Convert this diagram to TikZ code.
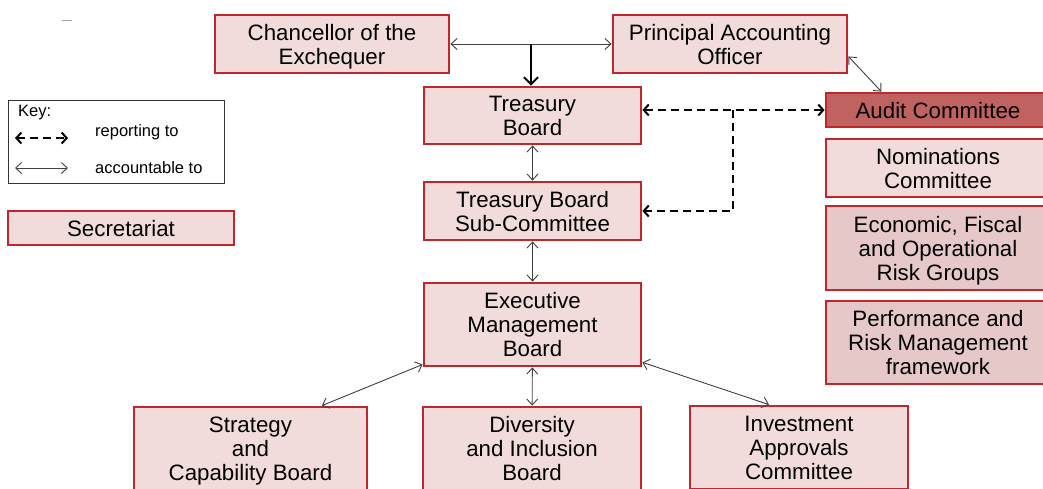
\documentclass[tikz,border=0pt]{standalone}
\usepackage{fontspec}
\setmainfont{Liberation Sans}
\usepackage{tikz}
\usetikzlibrary{arrows.meta,calc}
\definecolor{boxred}{RGB}{192,39,45}
\definecolor{boxpink}{RGB}{242,220,219}
\definecolor{boxrose}{RGB}{230,200,201}
\definecolor{auditred}{RGB}{192,98,96}
\newcommand{\boxfont}{\fontsize{22.3}{24}\selectfont}
\newcommand{\keyfont}{\fontsize{16.5}{19}\selectfont}
\tikzset{every picture/.append style={x=1pt,y=-1pt}}
\tikzset{box/.style={draw=boxred, fill=boxpink, line width=2.8pt, align=center, inner sep=0pt, font=\boxfont, text depth=-1.5pt}}
\tikzset{rosebox/.style={box, fill=boxrose}}
\tikzset{keybox/.style={draw=black!80, fill=white, line width=1pt, inner sep=0pt}}
\tikzset{acc/.style={{Straight Barb[length=6pt,width=11pt]}-{Straight Barb[length=6pt,width=11pt]}, line width=0.9pt, draw=black!75}}
\tikzset{rep/.style={{Straight Barb[length=5pt,width=11pt,line width=2pt]}-{Straight Barb[length=5pt,width=11pt,line width=2pt]}, line width=2pt, dash pattern=on 8pt off 5pt}}
\tikzset{repend/.style={-{Straight Barb[length=5pt,width=11pt,line width=2pt]}, line width=2pt, dash pattern=on 8pt off 5pt}}
\tikzset{down/.style={-{Straight Barb[length=7pt,width=14pt,line width=2pt]}, line width=2pt}}

\begin{document}
\begin{tikzpicture}
%governance chart: boards, committees and the lines of accountability and reporting between them
\clip (0,0) rectangle (1043,488);
\draw[black!35, line width=1pt] (62,20) -- (72,20);
\node (chan) at (332,44)[box, minimum width=234, minimum height=58]{Chancellor of the\\Exchequer};
\node (pao) at (730,44)[box, minimum width=234, minimum height=58]{Principal Accounting\\Officer};
\node (tb) at (532.5,115.5)[box, minimum width=217, minimum height=57]{Treasury\\Board};
\node (tbsc) at (532.5,211)[box, minimum width=217, minimum height=58]{Treasury Board\\Sub-Committee};
\node (emb) at (532.5,324.5)[box, minimum width=217, minimum height=83]{Executive\\Management\\Board};
\node (scb) at (250.5,448.5)[box, minimum width=233, minimum height=83]{Strategy\\and\\Capability Board};
\node (dib) at (532,448.5)[box, minimum width=218, minimum height=83]{Diversity\\and Inclusion\\Board};
\node (iac) at (799,447.5)[box, minimum width=218, minimum height=83]{Investment\\Approvals\\Committee};
\node (audit) at (938,110)[box, fill=auditred, minimum width=224, minimum height=34]{Audit Committee};
\node (nom) at (938,168)[box, minimum width=224, minimum height=58]{Nominations\\Committee};
\node (econ) at (938,248)[rosebox, minimum width=224, minimum height=84]{Economic, Fiscal\\and Operational\\Risk Groups};
\node (perf) at (938,342.5)[rosebox, minimum width=224, minimum height=83]{Performance and\\Risk Management\\framework};
\node (sec) at (121,228)[box, minimum width=226, minimum height=34]{Secretariat};
%key
\node (key) at (116,141.5)[keybox, minimum width=216, minimum height=83]{};
\node (keyt) at (18,113)[anchor=west, inner sep=0pt, font=\keyfont]{Key:};
\node (rept) at (95,132)[anchor=west, inner sep=0pt, font=\keyfont]{reporting to};
\node (acct) at (95,168)[anchor=west, inner sep=0pt, font=\keyfont]{accountable to};
\coordinate (r1) at (15,138);
\coordinate (r2) at (68,138);
\coordinate (a1) at (15,168);
\coordinate (a2) at (68,168);
\draw[rep] (r1)--(r2);
\draw[acc] (a1)--(a2);
%accountable to
\coordinate (split) at (531,44);
\draw[acc] (chan.east)--(pao.west);
\draw[down] (split)--(split |- tb.north);
\draw[acc] (pao.-6)--(audit.162);
\draw[acc] (tb)--(tbsc);
\draw[acc] (tbsc)--(emb);
\draw[acc] (emb)--(dib);
\draw[acc] (emb.200)--(scb.31);
\draw[acc] (emb.-19)--(iac.125);
%reporting to
\coordinate (br) at (733,110);
\draw[rep] (tb.east |- audit.west)--(audit.west);
\draw[repend] (br) |- (tbsc.east);
\end{tikzpicture}
\end{document}
